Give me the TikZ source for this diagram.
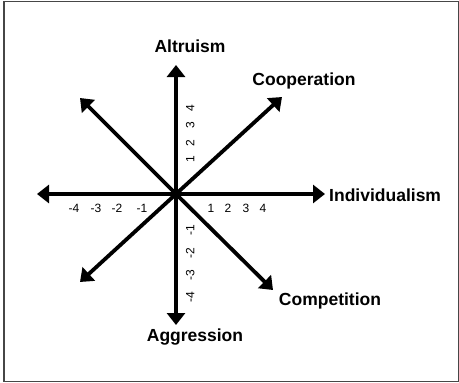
\documentclass[tikz,border=0pt]{standalone}
\usepackage{fontspec}
\setmainfont{Liberation Sans}
\usepackage{tikz}
\usetikzlibrary{arrows.meta}
\definecolor{framegray}{RGB}{70,70,70}

\begin{document}
\begin{tikzpicture}[x=1pt,y=-1pt,
    axis/.style={line width=3.8pt,-{Triangle[length=12pt,width=18pt]}},
    dirlabel/.style={font=\fontsize{17.5}{18}\selectfont\bfseries,inner sep=0pt},
    ticklabel/.style={font=\fontsize{12}{12}\selectfont,inner sep=0pt,
      text height=8.6pt,text depth=0pt}]
    \useasboundingbox (0,0) rectangle (459,383);
    \draw[framegray,line width=1pt] (4,1) rectangle (458,381);
    % centre and arrow ends
    \coordinate (o) at (176,194);
    \coordinate (altend) at (176,65);
    \coordinate (aggend) at (176,325);
    \coordinate (indend) at (325,194);
    \coordinate (leftend) at (37,194);
    \coordinate (coopend) at (282,97);
    \coordinate (nwend) at (80,98);
    \coordinate (swend) at (80,282);
    \coordinate (compend) at (273,290);
    \draw[axis] (o) -- (altend);
    \draw[axis] (o) -- (aggend);
    \draw[axis] (o) -- (indend);
    \draw[axis] (o) -- (leftend);
    \draw[axis] (o) -- (coopend);
    \draw[axis] (o) -- (nwend);
    \draw[axis] (o) -- (swend);
    \draw[axis] (o) -- (compend);
    % direction names
    \node[dirlabel] (altruism) at (190,46) {Altruism};
    \node[dirlabel] (cooperation) at (304,81) {Cooperation};
    \node[dirlabel,anchor=west] (individualism) at (329,195) {Individualism};
    \node[dirlabel] (competition) at (330,301) {Competition};
    \node[dirlabel] (aggression) at (195,337) {Aggression};
    % scale numbers
    \foreach \n/\x in {1/211,2/228,3/246,4/263}
      \node[ticklabel] (xp\n) at (\x,208) {\n};
    \foreach \n/\x in {1/142,2/117,3/96,4/74}
      \node[ticklabel] (xm\n) at (\x,208) {-\n};
    \foreach \n/\y in {1/159,2/143,3/125,4/108}
      \node[ticklabel,rotate=90] (yp\n) at (190,\y) {\n};
    \foreach \n/\y in {1/230,2/253,3/275,4/297}
      \node[ticklabel,rotate=90] (ym\n) at (190,\y) {-\n};
\end{tikzpicture}
\end{document}
